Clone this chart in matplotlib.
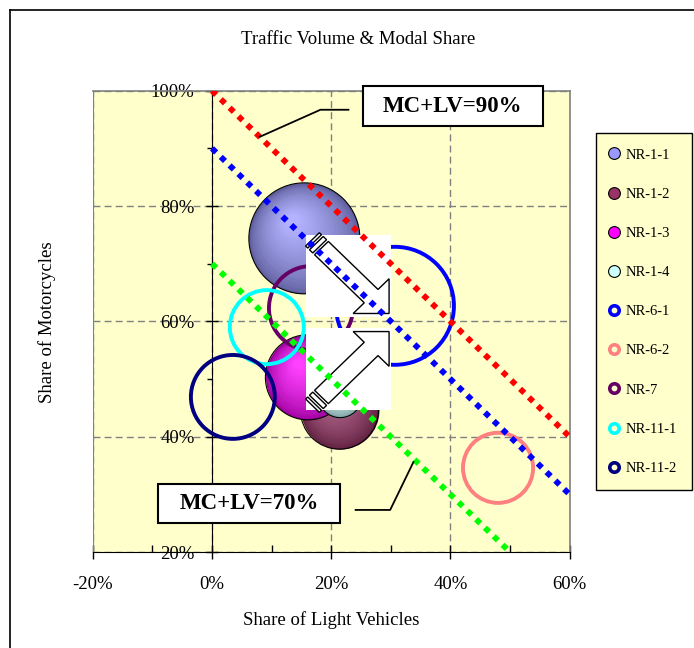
import numpy as np
import matplotlib
matplotlib.use("Agg")
import matplotlib.pyplot as plt
from matplotlib.patches import Rectangle, Polygon
from matplotlib.lines import Line2D
from matplotlib.transforms import Affine2D, ScaledTranslation
from matplotlib.colors import to_rgb

plt.rcParams['font.family'] = ['Liberation Serif', 'DejaVu Serif']

# survey sites: share of light vehicles / motorcycles (%) and traffic volume
sites = ["NR-1-1", "NR-1-2", "NR-1-3", "NR-1-4", "NR-6-1", "NR-6-2", "NR-7", "NR-11-1", "NR-11-2"]
lv_share = [15.5, 21.4, 16.1, 21.5, 30.7, 48.0, 16.6, 9.2, 3.5]
mc_share = [74.4, 44.6, 50.3, 47.1, 62.7, 34.6, 62.3, 59.0, 46.9]
volume = [30.8, 15.2, 18.1, 4.8, 34.8, 12.3, 17.6, 13.7, 17.6]
colors = ["#9999FF", "#993366", "#FF00FF", "#CCFFFF", "#0000FF",
          "#FF8080", "#660066", "#00FFFF", "#000080"]
solid = [True, True, True, True, False, False, False, False, False]

# MC+LV = const reference lines
line_totals = [100, 90, 70]
line_colors = ["#FF0000", "#0000FF", "#00FF00"]

x_ticks = [-20, 0, 20, 40, 60]
y_ticks = [20, 40, 60, 80, 100]

DPI = 100
W, H = 694, 648
SIZE_SCALE = 207.36  # marker area (pt^2) per unit of volume

fig = plt.figure(figsize=(W / DPI, H / DPI), dpi=DPI)
ax = fig.add_axes([0.1337, 0.1481, 0.6870, 0.7119])
ax.set_facecolor("#FFFFCC")

# axes: y axis crosses at LV = 0
ax.spines['left'].set_position(('data', 0))
ax.spines['left'].set_color('black')
ax.spines['bottom'].set_color('black')
for s in ('top', 'right'):
    ax.spines[s].set_color('#808080')
    ax.spines[s].set_linewidth(1.2)
ax.axvline(-20, color='#808080', lw=1.5, zorder=2.4)

ax.set_xticks(x_ticks)
ax.set_yticks(y_ticks)
ax.set_xticks([-10, 10, 30, 50], minor=True)
ax.set_yticks([30, 50, 70, 90], minor=True)
ax.xaxis.set_major_formatter(lambda v, p: f"{v:.0f}%")
ax.yaxis.set_major_formatter(lambda v, p: f"{v:.0f}%")
ax.tick_params(axis='x', which='major', direction='inout', length=10, width=1, pad=12, labelsize=13.5)
ax.tick_params(axis='x', which='minor', direction='in', length=5, width=1)
ax.tick_params(axis='y', which='major', direction='inout', length=9, width=1, pad=8, labelsize=13.5)
ax.tick_params(axis='y', which='minor', direction='out', length=3.6, width=1)

ax.set_axisbelow(True)
ax.grid(True, which='major', color='#808080', lw=1, linestyle=(0, (5, 3)))


def shade(c, t):
    c = np.array(to_rgb(c))
    dark = c * 0.62
    light = c + (1 - c) * 0.25
    return np.clip(dark + (light - dark) * t, 0, 1)


# bubbles
n_layers = 24
for i, (x, y, v, c, sol) in enumerate(zip(lv_share, mc_share, volume, colors, solid)):
    s = v * SIZE_SCALE
    z = 3 + i * 0.05
    if sol:
        r_pt = np.sqrt(s) / 2
        for k in range(n_layers):
            f = 1 - 0.92 * k / n_layers
            d = (1 - f) * r_pt * 0.45
            off = ScaledTranslation(-0.57 * d / 72, 0.82 * d / 72, fig.dpi_scale_trans)
            t = (k / (n_layers - 1)) ** 0.7
            ax.scatter([x], [y], s=s * f ** 2, color=[shade(c, t)], lw=0,
                       transform=ax.transData + off, zorder=z)
        ax.scatter([x], [y], s=s, facecolors='none', edgecolors='black',
                   linewidths=0.8, zorder=z + 0.01)
    else:
        ax.scatter([x], [y], s=s, facecolors='none', edgecolors=c,
                   linewidths=2.8, zorder=z)


# striped block arrows on white boxes
def arrow_parts(tip, angle):
    L, sw, hw, hl = 1.28, 0.115, 0.3, 0.3
    parts = [
        [(0, -sw), (0.035, -sw), (0.035, sw), (0, sw)],
        [(0.065, -sw), (0.12, -sw), (0.12, sw), (0.065, sw)],
        [(0.15, -sw), (L - hl, -sw), (L - hl, -hw), (L, 0),
         (L - hl, hw), (L - hl, sw), (0.15, sw)],
    ]
    u = np.array([np.cos(angle), np.sin(angle)])
    n = np.array([-np.sin(angle), np.cos(angle)])
    tail = np.array(tip) - L * u
    return [tail + np.outer(np.array(p)[:, 0], u) + np.outer(np.array(p)[:, 1], n) for p in parts]


boxes = [((15.8, 60.8), (0.98, 0.04), -np.pi / 4),
         ((15.8, 44.6), (0.98, 0.96), np.pi / 4)]
for (x0, y0), tip, ang in boxes:
    tr = Affine2D().scale(14.2, 14.2).translate(x0, y0) + ax.transData
    ax.add_patch(Rectangle((0, 0), 1, 1, transform=tr, fc='white', ec='none', zorder=5))
    for p in arrow_parts(tip, ang):
        ax.add_patch(Polygon(p, closed=True, transform=tr, fc='white', ec='black',
                             lw=1, zorder=5.1))

# dotted MC+LV lines
for tot, c in zip(line_totals, line_colors):
    x_end = min(60, tot - 20)
    xs = np.array([0, x_end])
    ax.plot(xs, tot - xs, color=c, lw=4.2, linestyle=(0, (1, 1.1)),
            dash_capstyle='butt', zorder=6)

# callout labels
callouts = [
    ("MC+LV=90%", (25.3, 93.9, 30.2, 6.9), [(8.0, 92.0), (18.2, 96.7), (22.9, 96.7)]),
    ("MC+LV=70%", (-9.1, 25.0, 30.6, 6.8), [(33.8, 35.6), (29.9, 27.3), (24.1, 27.3)]),
]
for txt, (bx, by, bw, bh), leader in callouts:
    ax.add_patch(Rectangle((bx, by), bw, bh, fc='white', ec='black', lw=1.5,
                           zorder=7, clip_on=False))
    ax.text(bx + bw / 2, by + bh / 2, txt, ha='center', va='center',
            fontsize=16.5, fontweight='bold', zorder=7.1)
    lx, ly = zip(*leader)
    ax.plot(lx, ly, color='black', lw=1.3, zorder=7, clip_on=False)

ax.set_xlim(-20, 60)
ax.set_ylim(20, 100)

# legend
handles = []
for c, sol in zip(colors, solid):
    if sol:
        handles.append(Line2D([], [], ls='none', marker='o', ms=8.5, mfc=c, mec='black', mew=0.8))
    else:
        handles.append(Line2D([], [], ls='none', marker='o', ms=6.8, mfc='#FFFFCC', mec=c, mew=2.6))
leg = fig.legend(handles, sites, loc='upper left',
                 bbox_to_anchor=(596 / W, 1 - 133 / H),
                 bbox_transform=fig.transFigure, borderaxespad=0,
                 fontsize=10.5, labelspacing=1.78, borderpad=1.05, handlelength=0.4,
                 handletextpad=0.55, fancybox=False, framealpha=1,
                 facecolor='#FFFFCC', edgecolor='black')
leg.get_frame().set_linewidth(1)

# titles
fig.text(358 / W, 1 - 40 / H, "Traffic Volume & Modal Share", ha='center', va='center', fontsize=13.5)
fig.text(331 / W, 1 - 620 / H, "Share of Light Vehicles", ha='center', va='center', fontsize=13.5)
fig.text(47 / W, 1 - 322 / H, "Share of Motorcycles", ha='center', va='center',
         rotation=90, fontsize=13.5)

# chart border
fig.add_artist(Line2D([10 / W, 10 / W], [0, 1 - 10 / H], color='black', lw=1.2))
fig.add_artist(Line2D([10 / W, 1], [1 - 10 / H, 1 - 10 / H], color='black', lw=1.2))

fig.savefig("out.png", dpi=DPI)
